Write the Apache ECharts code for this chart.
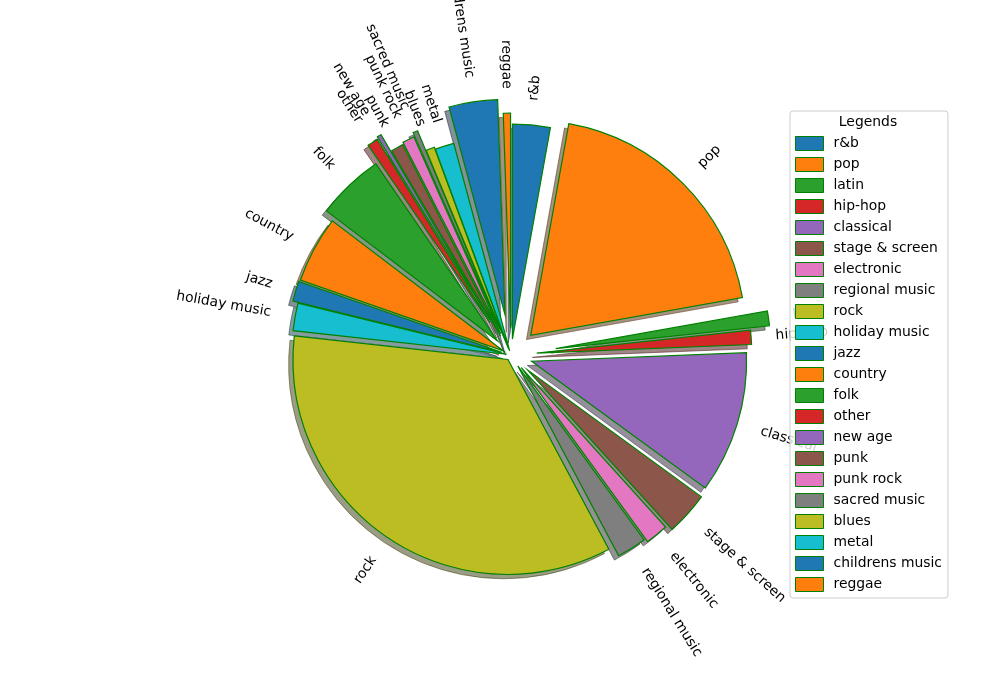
<!DOCTYPE html>
<html>
<head>
<meta charset="utf-8">
<script src="https://cdn.jsdelivr.net/npm/echarts@6/dist/echarts.min.js"></script>
<style>html,body{margin:0;padding:0;background:#fff}#main{width:1000px;height:700px}</style>
</head>
<body>
<div id="main"></div>
<script>
const categories = ['r&b','pop','latin','hip-hop','classical','stage & screen','electronic','regional music','rock','holiday music','jazz','country','folk','other','new age','punk','punk rock','sacred music','blues','metal','childrens music','reggae'];
const shares = [2.83,19.36,1.11,1.06,10.67,3.25,1.72,2.22,34.51,2.08,1.51,5.01,5.07,0.81,0.31,0.94,0.90,0.36,0.64,1.43,3.65,0.54];
const explode = [0.074,0.13,0.21,0.12,0.10,0.105,0.076,0.06,0.025,0.02,0.045,0.04,0.09,0.18,0.19,0.10,0.11,0.13,0.03,0.02,0.19,0.125];
const palette = ['#1f77b4','#ff7f0e','#2ca02c','#d62728','#9467bd','#8c564b','#e377c2','#7f7f7f','#bcbd22','#17becf'];

const R = 215, CX = 511, CY = 355, SH = 0.02 * R;
const FONT = 'DejaVu Sans';
function colorOf(i){ return palette[i % palette.length]; }
function shadowOf(hex){
  const r = parseInt(hex.slice(1,3),16), g = parseInt(hex.slice(3,5),16), b = parseInt(hex.slice(5,7),16);
  return 'rgba(' + Math.round(r*0.3) + ',' + Math.round(g*0.3) + ',' + Math.round(b*0.3) + ',0.5)';
}
function pieFor(i, isShadow){
  return {
    type: 'pie', z: isShadow ? 1 : 2,
    center: isShadow ? [CX - SH, CY + SH] : [CX, CY],
    radius: R, startAngle: 90, clockwise: true,
    selectedMode: 'multiple', selectedOffset: explode[i] * R,
    avoidLabelOverlap: false, silent: true, animation: false,
    labelLayout: {hideOverlap: false},
    label: {show: false}, labelLine: {show: false},
    emphasis: {disabled: true},
    data: categories.map(function(n, j){
      if (j !== i) return {name: n, value: shares[j], itemStyle: {color: 'rgba(0,0,0,0)', borderWidth: 0}, label: {show: false}};
      const c = colorOf(j);
      if (isShadow) return {name: n, value: shares[j], selected: true,
        itemStyle: {color: shadowOf(c), borderColor: shadowOf(c), borderWidth: 1, borderJoin: 'miter'}, label: {show: false}};
      return {name: n, value: shares[j], selected: true,
        itemStyle: {color: c, borderColor: '#008000', borderWidth: 1.2, borderJoin: 'miter', borderMiterLimit: 10},
        label: {show: true, position: 'outside', rotate: 'radial', color: '#000', fontFamily: FONT, fontSize: 13.9, distanceToLabelLine: 0},
        labelLine: {show: false, length: 0.1 * R + 3, length2: 0}};
    })
  };
}
const series = [];
categories.forEach(function(n, i){ series.push(pieFor(i, true)); });
categories.forEach(function(n, i){ series.push(pieFor(i, false)); });

const chart = echarts.init(document.getElementById('main'), null, {renderer: 'canvas'});
chart.setOption({
  animation: false,
  legend: {
    orient: 'vertical', left: 790, top: 111, z: 10,
    padding: [25, 6, 6, 5], itemGap: 6, itemWidth: 28, itemHeight: 14,
    backgroundColor: 'rgba(255,255,255,0.8)', borderColor: '#cccccc', borderWidth: 1, borderRadius: 3,
    textStyle: {fontFamily: FONT, fontSize: 13.9, color: '#000', padding: [0, 0, 0, 5]},
    selectedMode: false,
    data: categories.map(function(n, i){ return {name: n, icon: 'rect', itemStyle: {color: colorOf(i), borderColor: '#008000', borderWidth: 1}}; })
  },
  graphic: [{type: 'text', x: 868, y: 122, z: 20, style: {text: 'Legends', fontFamily: FONT, fontSize: 13.9, fill: '#000', align: 'center', verticalAlign: 'middle'}}],
  series: series
});
</script>
</body>
</html>
